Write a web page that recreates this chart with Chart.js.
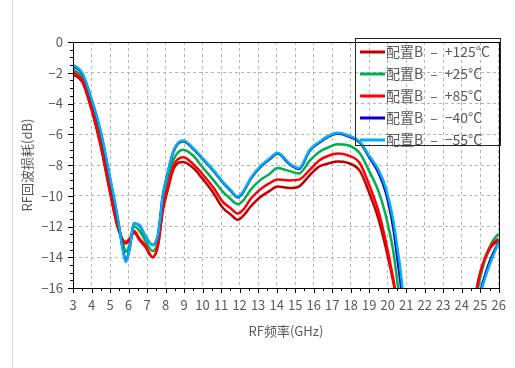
<!DOCTYPE html>
<html>
<head>
<meta charset="utf-8">
<script src="https://cdn.jsdelivr.net/npm/chart.js@4.4.1/dist/chart.umd.min.js"></script>
<style>
    html, body { margin: 0; padding: 0; background: #fff; }
    #wrap { position: relative; width: 515px; height: 368px; }
    #edge { position: absolute; left: 12px; top: 0; width: 1px; height: 368px; background: #d9d9d9; }
</style>
</head>
<body>
<div id="wrap">
    <div id="edge"></div>
    <canvas id="rlChart" width="515" height="368"></canvas>
</div>
<script>
// Frequenze (GHz) e perdita di ritorno (dB)
const freqGHz = [3, 3.5, 4, 4.5, 5, 5.4, 5.7, 5.85, 6.05, 6.3, 6.6, 6.9, 7.3, 7.6, 7.85, 8.1, 8.45, 8.95, 9.5, 10,
    10.6, 11.1, 11.5, 11.9, 12.2, 12.6, 13.1, 13.6, 14.05, 14.7, 15.2, 15.8, 16.3, 16.8, 17.3, 17.8, 18.5, 19, 19.5, 19.9,
    20.3, 20.6, 21.2, 24.6, 25, 25.3, 25.6, 26];

const rlP125 = [-2.1, -2.6, -4.4, -6.8, -9.8, -12.0, -12.9, -13.0, -12.8, -12.4, -12.9, -13.3, -14.0, -13.2, -11.0, -9.7, -8.2, -7.8, -8.2, -8.9,
    -9.85, -10.8, -11.2, -11.57, -11.3, -10.7, -10.1, -9.7, -9.4, -9.5, -9.4, -8.65, -8.1, -7.9, -7.78, -7.85, -8.4, -9.8, -11.5, -13.4,
    -15.6, -17.6, -21, -17.0, -15.0, -14.0, -13.3, -12.9];
const rlP25 = [-1.78, -2.3, -4.0, -6.3, -9.3, -11.7, -13.1, -13.65, -13.2, -12.0, -12.3, -12.9, -13.6, -12.9, -10.4, -9.0, -7.6, -7.0, -7.4, -8.15,
    -9.0, -9.75, -10.2, -10.55, -10.3, -9.6, -9.0, -8.6, -8.2, -8.4, -8.55, -7.7, -7.15, -6.85, -6.65, -6.7, -7.25, -8.4, -9.7, -11.3,
    -13.6, -16.3, -20, -17.5, -15.3, -14.0, -13.1, -12.45];
const rlP85 = [-1.95, -2.5, -4.3, -6.7, -9.7, -11.9, -12.9, -13.1, -12.9, -12.3, -12.8, -13.2, -14.0, -13.1, -10.8, -9.5, -8.0, -7.5, -7.95, -8.6,
    -9.5, -10.4, -10.8, -11.15, -10.9, -10.2, -9.6, -9.2, -8.95, -9.0, -8.95, -8.3, -7.7, -7.4, -7.25, -7.35, -7.9, -9.3, -11.0, -13.0,
    -15.4, -17.5, -21, -17.2, -15.0, -13.9, -13.2, -12.8];
const rlM40 = [-1.55, -2.05, -3.75, -5.9, -8.9, -11.4, -13.5, -14.2, -13.5, -11.8, -11.95, -12.6, -13.2, -12.5, -10.0, -8.6, -7.05, -6.45, -6.95, -7.6,
    -8.4, -9.15, -9.65, -10.1, -9.75, -8.9, -8.15, -7.65, -7.25, -7.95, -8.25, -7.05, -6.55, -6.15, -5.95, -6.1, -6.55, -7.5, -8.5, -9.8,
    -12.1, -14.8, -19.5, -19.2, -16.3, -15.0, -14.0, -13.0];
const rlM55 = [-1.47, -2.0, -3.7, -5.8, -8.8, -11.3, -13.6, -14.3, -13.5, -11.8, -11.9, -12.6, -13.2, -12.5, -10.0, -8.6, -7.0, -6.4, -6.9, -7.55,
    -8.35, -9.1, -9.6, -10.05, -9.7, -8.85, -8.1, -7.6, -7.2, -7.9, -8.2, -7.0, -6.5, -6.1, -5.9, -6.05, -6.5, -7.4, -8.3, -9.5,
    -11.6, -14.0, -19, -19.5, -16.5, -15.2, -14.2, -13.0];

const seriesLabels = ['配置B\u2002–\u2002+125°C', '配置B\u2002–\u2002+25°C', '配置B\u2002–\u2002+85°C',
    '配置B\u2002–\u2002−40°C', '配置B\u2002–\u2002−55°C'];
const xTicks = [3, 26, 1];   // min, max, passo
const yTicks = [-16, 0, 2];

const FONT = "'Noto Sans CJK SC', 'Noto Sans', sans-serif";
const GREY = '#595959';

function toPoints(values) {
    return freqGHz.map((f, i) => ({ x: f, y: values[i] }));
}

function makeSet(label, values, color, order) {
    return {
        label: label,
        data: toPoints(values),
        borderColor: color,
        backgroundColor: color,
        borderWidth: 2.5,
        pointRadius: 0,
        cubicInterpolationMode: 'monotone',
        clip: 0,
        order: order
    };
}

// Cornice, tacche minori e legenda disegnate a mano
const framePlugin = {
    id: 'frameAndLegend',
    afterDatasetsDraw(chart) {
        const ctx = chart.ctx;
        const a = chart.chartArea;
        const xs = chart.scales.x;
        const ys = chart.scales.y;
        ctx.save();
        ctx.strokeStyle = '#000';
        ctx.lineWidth = 1;
        ctx.strokeRect(Math.round(a.left) + 0.5, Math.round(a.top) + 0.5,
            Math.round(a.right - a.left), Math.round(a.bottom - a.top));

        ctx.beginPath();
        for (let v = xTicks[0]; v <= xTicks[1] + 1e-9; v += 0.5) {
            const px = Math.round(xs.getPixelForValue(v)) + 0.5;
            const len = Number.isInteger(v) ? 5 : 3;
            ctx.moveTo(px, Math.round(a.bottom));
            ctx.lineTo(px, Math.round(a.bottom) + len);
        }
        for (let v = yTicks[0]; v <= yTicks[1] + 1e-9; v += 0.5) {
            const py = Math.round(ys.getPixelForValue(v)) + 0.5;
            const len = (v % 2 === 0) ? 5 : 3;
            ctx.moveTo(Math.round(a.left) - len, py);
            ctx.lineTo(Math.round(a.left) + 1, py);
        }
        ctx.stroke();

        // legenda
        const bx = 355.5, by = 38.5, bw = 145, bh = 107;
        ctx.strokeStyle = '#262626';
        ctx.strokeRect(bx, by, bw, bh);
        ctx.font = '14px ' + FONT;
        ctx.textBaseline = 'middle';
        chart.data.datasets.forEach((ds, i) => {
            const y = 52 + i * 22;
            ctx.strokeStyle = ds.borderColor;
            ctx.lineWidth = 3;
            ctx.beginPath();
            ctx.moveTo(360, y);
            ctx.lineTo(385, y);
            ctx.stroke();
            ctx.fillStyle = GREY;
            ctx.fillText(ds.label, 386, y);
        });
        ctx.restore();
    }
};

const ctxRl = document.getElementById('rlChart').getContext('2d');
new Chart(ctxRl, {
    type: 'line',
    data: {
        datasets: [
            makeSet(seriesLabels[0], rlP125, '#c00000', 4),
            makeSet(seriesLabels[1], rlP25, '#00b050', 3),
            makeSet(seriesLabels[2], rlP85, '#ff0000', 2),
            makeSet(seriesLabels[3], rlM40, '#0000c8', 1),
            makeSet(seriesLabels[4], rlM55, '#00b0f0', 0)
        ]
    },
    options: {
        responsive: false,
        animation: false,
        layout: { padding: { left: 19, right: 15, top: 42, bottom: 29 } },
        plugins: {
            legend: { display: false },
            tooltip: { enabled: false }
        },
        scales: {
            x: {
                type: 'linear',
                min: xTicks[0],
                max: xTicks[1],
                afterFit: (s) => { s.height = 51; },
                ticks: {
                    stepSize: xTicks[2],
                    autoSkip: false,
                    maxRotation: 0,
                    padding: 9,
                    color: GREY,
                    font: { family: FONT, size: 13 }
                },
                grid: { color: '#b4b4b4', drawTicks: false },
                border: { display: false, dash: [3, 3] },
                title: {
                    display: true,
                    text: 'RF频率(GHz)',
                    color: GREY,
                    font: { family: FONT, size: 13 },
                    padding: { top: 4, bottom: 0 }
                }
            },
            y: {
                min: yTicks[0],
                max: yTicks[1],
                afterFit: (s) => { s.width = 54; },
                ticks: {
                    stepSize: yTicks[2],
                    padding: 10,
                    color: GREY,
                    font: { family: FONT, size: 13 },
                    callback: (v) => String(v).replace('-', '−')
                },
                grid: { color: '#b4b4b4', drawTicks: false },
                border: { display: false, dash: [3, 3] },
                title: {
                    display: true,
                    text: 'RF回波损耗(dB)',
                    color: GREY,
                    font: { family: FONT, size: 13 },
                    padding: { top: 0, bottom: 0 }
                }
            }
        }
    },
    plugins: [framePlugin]
});
</script>
</body>
</html>
